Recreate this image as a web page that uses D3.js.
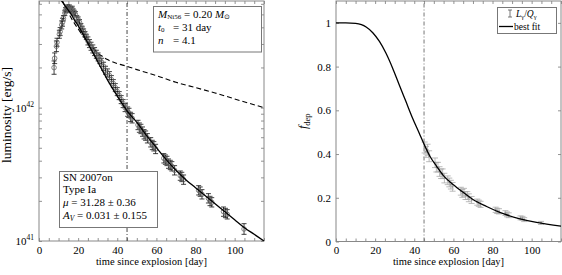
<!DOCTYPE html>
<html>
<head>
<meta charset="utf-8">
<script src="https://cdn.jsdelivr.net/npm/d3@7"></script>
<style>
  body { margin: 0; background: #fff; }
  text { font-family: "Liberation Serif", "Times New Roman", serif; fill: #000; }
</style>
</head>
<body>
<svg id="chart" width="562" height="275"></svg>
<script>
// observed bolometric luminosity (log10 erg/s) with 1-sigma error in dex
const obsDay = [7.7, 8.0, 8.9, 9.2, 10.4, 10.8, 11.6, 12.0, 12.5, 13.2, 13.6, 14.1, 14.5, 15.0, 15.5, 16.0, 16.5, 17.0, 17.5, 18.0,
  18.6, 19.3, 20.0, 20.7, 21.4, 22.1, 22.8, 23.5, 24.2, 25.0, 25.8, 26.6, 27.5, 28.4, 29.3, 30.2, 31.1, 32.0, 33.0, 34.0,
  35.0, 36.0, 37.0, 38.0, 39.0, 40.0, 41.0, 42.0, 43.0, 44.0,
  45.3, 46.0, 46.8, 47.6, 50.6, 51.3, 52.1, 52.9, 53.7, 54.5, 55.4, 57.1, 57.9, 58.7, 59.6, 63.8, 64.6, 65.4, 66.2, 67.1,
  67.9, 69.3, 72.2, 73.0, 73.9, 81.6, 82.4, 83.3, 86.6, 87.4, 88.3, 94.3, 95.3, 96.2, 104.8];
const obsLogL = [42.30, 42.37, 42.46, 42.49, 42.55, 42.57, 42.62, 42.64, 42.67, 42.71, 42.73, 42.74, 42.75, 42.74, 42.75, 42.74, 42.73, 42.74, 42.72, 42.71,
  42.70, 42.67, 42.66, 42.64, 42.61, 42.59, 42.57, 42.55, 42.53, 42.50, 42.48, 42.46, 42.44, 42.42, 42.40, 42.38, 42.36, 42.34, 42.31, 42.28,
  42.26, 42.24, 42.21, 42.18, 42.15, 42.12, 42.09, 42.06, 42.03, 42.00,
  41.97, 41.96, 41.93, 41.92, 41.87, 41.85, 41.84, 41.82, 41.80, 41.79, 41.77, 41.74, 41.72, 41.71, 41.69, 41.62, 41.61, 41.60, 41.58, 41.57,
  41.56, 41.53, 41.49, 41.48, 41.46, 41.38, 41.37, 41.35, 41.32, 41.30, 41.29, 41.22, 41.21, 41.20, 41.09];
const obsErr = [0.05, 0.04, 0.04, 0.03, 0.03, 0.03, 0.03, 0.03, 0.02, 0.02, 0.02, 0.02, 0.02, 0.02, 0.02, 0.02, 0.02, 0.02, 0.02, 0.02,
  0.02, 0.02, 0.02, 0.02, 0.02, 0.02, 0.02, 0.02, 0.02, 0.03, 0.03, 0.03, 0.03, 0.03, 0.03, 0.03, 0.03, 0.03, 0.03, 0.03,
  0.03, 0.03, 0.03, 0.03, 0.03, 0.03, 0.03, 0.03, 0.03, 0.03,
  0.035, 0.035, 0.035, 0.035, 0.035, 0.035, 0.035, 0.035, 0.035, 0.035, 0.035, 0.035, 0.035, 0.035, 0.035, 0.035, 0.035, 0.035, 0.035, 0.035,
  0.035, 0.035, 0.035, 0.035, 0.035, 0.035, 0.035, 0.035, 0.035, 0.035, 0.035, 0.035, 0.035, 0.035, 0.04];

// best fit model luminosity (solid) and full deposition (dashed)
const modelDay = [9.5, 12, 14, 16, 18, 20.6, 25.8, 30.9, 36.1, 41.2, 45, 50, 55, 60, 65, 70, 75, 80, 85, 90, 95, 100, 105, 110, 115];
const modelLogL = [42.85, 42.79, 42.75, 42.71, 42.66, 42.60, 42.46, 42.32, 42.18, 42.06, 41.975, 41.89, 41.79, 41.70, 41.61, 41.53, 41.46, 41.40, 41.34, 41.28, 41.22, 41.16, 41.10, 41.05, 41.00];
const qDay = [10, 12, 15, 20, 25, 30, 35, 40, 45, 50, 60, 70, 80, 90, 100, 115];
const qLogL = [42.85, 42.80, 42.71, 42.59, 42.49, 42.41, 42.36, 42.33, 42.31, 42.285, 42.24, 42.19, 42.15, 42.11, 42.065, 42.00];

// deposition fraction L_gamma / Q_gamma
const ratioDay = [45.3, 46.0, 46.8, 47.6, 50.6, 51.3, 52.1, 52.9, 53.7, 54.5, 55.4, 57.1, 57.9, 58.7, 59.6, 63.8, 64.6, 65.4, 66.2, 67.1,
  67.9, 69.3, 72.2, 73.0, 73.9, 81.6, 82.4, 83.3, 86.6, 87.4, 88.3, 94.3, 95.3, 96.2, 104.8];
const ratioF = [0.43, 0.41, 0.42, 0.39, 0.36, 0.34, 0.34, 0.32, 0.31, 0.31, 0.29, 0.28, 0.27, 0.26, 0.25, 0.23, 0.22, 0.225, 0.21, 0.21,
  0.20, 0.19, 0.18, 0.175, 0.17, 0.145, 0.14, 0.138, 0.13, 0.124, 0.12, 0.108, 0.106, 0.10, 0.085];
const ratioErr = [0.025, 0.025, 0.025, 0.025, 0.022, 0.022, 0.022, 0.022, 0.022, 0.022, 0.022, 0.02, 0.02, 0.02, 0.02, 0.018, 0.018, 0.018, 0.018, 0.018,
  0.018, 0.016, 0.014, 0.014, 0.014, 0.012, 0.012, 0.012, 0.011, 0.011, 0.011, 0.009, 0.009, 0.009, 0.007];

const fitDay = [0, 5, 10, 13, 15.4, 18.8, 22.2, 25.5, 28.9, 32.3, 35.7, 39.1, 42.5, 45.1, 48, 51.5, 55, 60, 65, 70, 77, 85.5, 94, 102.5, 115];
const fitF = [1.0, 1.0, 0.998, 0.992, 0.981, 0.955, 0.915, 0.862, 0.794, 0.717, 0.641, 0.565, 0.496, 0.443, 0.39, 0.343, 0.30, 0.26, 0.225, 0.192, 0.16, 0.127, 0.104, 0.087, 0.070];

const tCut = 45;
const dayTicks = d3.range(0, 116, 5);

const svg = d3.select("#chart");
const frameColor = "#888";

const xL = d3.scaleLinear().domain([0, 115]).range([39, 264]);
const yL = d3.scaleLog().domain([1e41, 6.3e42]).range([241, 1]);
const xR = d3.scaleLinear().domain([0, 115]).range([336, 561]);
const yR = d3.scaleLinear().domain([0, 1.1]).range([241.5, 1]);

function clip(id, x, y) {
  svg.append("clipPath").attr("id", id).append("rect")
    .attr("x", x.range()[0]).attr("y", y.range()[1])
    .attr("width", x.range()[1] - x.range()[0]).attr("height", y.range()[0] - y.range()[1]);
}
clip("clipL", xL, yL);
clip("clipR", xR, yR);

function axes(x, y, yTicks, yFmt) {
  const [x0, x1] = x.range(), [y1, y0] = y.range();
  const g = svg.append("g");
  g.append("g").attr("transform", `translate(0,${y1})`)
    .call(d3.axisBottom(x).tickValues(dayTicks).tickSizeInner(-3).tickSizeOuter(0).tickPadding(5)
      .tickFormat(d => d % 20 === 0 ? d : ""));
  g.append("g").attr("transform", `translate(0,${y0})`)
    .call(d3.axisTop(x).tickValues(dayTicks).tickSizeInner(-3).tickSizeOuter(0).tickFormat(""));
  g.append("g").attr("transform", `translate(${x0},0)`)
    .call(d3.axisLeft(y).tickValues(yTicks).tickSizeInner(-3).tickSizeOuter(0).tickPadding(5).tickFormat(yFmt || ""));
  g.append("g").attr("transform", `translate(${x1},0)`)
    .call(d3.axisRight(y).tickValues(yTicks).tickSizeInner(-3).tickSizeOuter(0).tickFormat(""));
  g.selectAll(".domain").remove();
  g.selectAll(".tick line").attr("stroke", "#777").attr("stroke-width", 0.8);
  g.selectAll(".tick text").attr("font-family", "Liberation Serif").attr("font-size", 11).attr("fill", "#000");
  g.append("rect").attr("x", x0).attr("y", y0).attr("width", x1 - x0).attr("height", y1 - y0)
    .attr("fill", "none").attr("stroke", frameColor).attr("stroke-width", 1);
}

// ---------- left panel ----------
const logTicks = [];
for (let e = 41; e <= 42; e++) for (let m = 1; m <= 9; m++) if (m * Math.pow(10, e) <= 6.3e42) logTicks.push(m * Math.pow(10, e));
axes(xL, yL, logTicks);
[41, 42].forEach(e => {
  const t = svg.append("text").attr("x", 34).attr("y", yL(Math.pow(10, e)) + 4)
    .attr("text-anchor", "end").attr("font-size", 11);
  t.append("tspan").text("10");
  t.append("tspan").attr("dy", -5).attr("font-size", 7.5).text(e);
});

const pL = svg.append("g").attr("clip-path", "url(#clipL)");
pL.append("line").attr("x1", xL(tCut)).attr("x2", xL(tCut)).attr("y1", yL.range()[0]).attr("y2", yL.range()[1])
  .attr("stroke", "#333").attr("stroke-width", 0.9).attr("stroke-dasharray", "4,2,1,2");

const lineL = d3.line().x(d => xL(d[0])).y(d => yL(Math.pow(10, d[1]))).curve(d3.curveMonotoneX);
pL.append("path").datum(d3.zip(qDay, qLogL)).attr("d", lineL)
  .attr("fill", "none").attr("stroke", "#000").attr("stroke-width", 1.1).attr("stroke-dasharray", "5,3");

const obs = d3.zip(obsDay, obsLogL, obsErr);
const eb = pL.selectAll(".eb").data(obs).enter().append("g").attr("stroke", "#111").attr("stroke-width", 0.8);
eb.append("line").attr("x1", d => xL(d[0])).attr("x2", d => xL(d[0]))
  .attr("y1", d => yL(Math.pow(10, d[1] - d[2]))).attr("y2", d => yL(Math.pow(10, d[1] + d[2])));
eb.append("line").attr("x1", d => xL(d[0]) - 2.5).attr("x2", d => xL(d[0]) + 2.5)
  .attr("y1", d => yL(Math.pow(10, d[1] - d[2]))).attr("y2", d => yL(Math.pow(10, d[1] - d[2])));
eb.append("line").attr("x1", d => xL(d[0]) - 2.5).attr("x2", d => xL(d[0]) + 2.5)
  .attr("y1", d => yL(Math.pow(10, d[1] + d[2]))).attr("y2", d => yL(Math.pow(10, d[1] + d[2])));
pL.selectAll(".mk").data(obs).enter().append("circle")
  .attr("cx", d => xL(d[0])).attr("cy", d => yL(Math.pow(10, d[1]))).attr("r", 2.3)
  .attr("fill", "none").attr("stroke", "#666").attr("stroke-width", 0.8);

pL.append("path").datum(d3.zip(modelDay, modelLogL)).attr("d", lineL)
  .attr("fill", "none").attr("stroke", "#000").attr("stroke-width", 1.3);

// parameter box
const box1 = svg.append("g");
box1.append("rect").attr("x", 153.5).attr("y", 6.5).attr("width", 108).attr("height", 45.5)
  .attr("fill", "#fff").attr("stroke", "#777").attr("stroke-width", 1);
let t = box1.append("text").attr("x", 158).attr("y", 17.5).attr("font-size", 11);
t.append("tspan").attr("font-style", "italic").text("M");
t.append("tspan").attr("dy", 1.5).attr("font-size", 7).text("Ni56");
t.append("tspan").attr("dy", -1.5).text(" = 0.20 ");
t.append("tspan").attr("font-style", "italic").text("M");
t.append("tspan").attr("dy", 1.5).attr("font-size", 7).text("⊙");
t = box1.append("text").attr("x", 158).attr("y", 30.5).attr("font-size", 11);
t.append("tspan").attr("font-style", "italic").text("t");
t.append("tspan").attr("dy", 1.5).attr("font-size", 7).text("0");
t.append("tspan").attr("dy", -1.5).attr("x", 173).text("= 31 day");
t = box1.append("text").attr("x", 158).attr("y", 43.5).attr("font-size", 11);
t.append("tspan").attr("font-style", "italic").text("n");
t.append("tspan").attr("x", 173).text("= 4.1");

// supernova box
const box2 = svg.append("g");
box2.append("rect").attr("x", 59.5).attr("y", 171.5).attr("width", 98).attr("height", 56)
  .attr("fill", "#fff").attr("stroke", "#777").attr("stroke-width", 1);
box2.append("text").attr("x", 63).attr("y", 180.5).attr("font-size", 11).text("SN 2007on");
box2.append("text").attr("x", 63).attr("y", 193).attr("font-size", 11).text("Type Ia");
t = box2.append("text").attr("x", 63).attr("y", 206).attr("font-size", 11);
t.append("tspan").attr("font-style", "italic").text("μ");
t.append("tspan").text(" = 31.28 ± 0.36");
t = box2.append("text").attr("x", 63).attr("y", 219).attr("font-size", 11);
t.append("tspan").attr("font-style", "italic").text("A");
t.append("tspan").attr("dy", 1.5).attr("font-size", 7.5).attr("font-style", "italic").text("V");
t.append("tspan").attr("dy", -1.5).text(" = 0.031 ± 0.155");

svg.append("text").attr("transform", `translate(11,115) rotate(-90)`)
  .attr("text-anchor", "middle").attr("font-size", 13.5).text("luminosity [erg/s]");
svg.append("text").attr("x", (xL.range()[0] + xL.range()[1]) / 2).attr("y", 265)
  .attr("text-anchor", "middle").attr("font-size", 10.5).text("time since explosion [day]");

// ---------- right panel ----------
axes(xR, yR, [0, 0.2, 0.4, 0.6, 0.8, 1], d => d === 0 || d === 1 ? d : d3.format(".1f")(d));

const pR = svg.append("g").attr("clip-path", "url(#clipR)");
pR.append("line").attr("x1", xR(tCut)).attr("x2", xR(tCut)).attr("y1", yR.range()[0]).attr("y2", yR.range()[1])
  .attr("stroke", "#666").attr("stroke-width", 0.9).attr("stroke-dasharray", "4,2,1,2");

const ratio = d3.zip(ratioDay, ratioF, ratioErr);
const ebR = pR.selectAll(".ebr").data(ratio).enter().append("g").attr("stroke", "#aaa").attr("stroke-width", 0.8);
ebR.append("line").attr("x1", d => xR(d[0])).attr("x2", d => xR(d[0]))
  .attr("y1", d => yR(d[1] - d[2])).attr("y2", d => yR(d[1] + d[2]));
ebR.append("line").attr("x1", d => xR(d[0]) - 3).attr("x2", d => xR(d[0]) + 3)
  .attr("y1", d => yR(d[1] - d[2])).attr("y2", d => yR(d[1] - d[2]));
ebR.append("line").attr("x1", d => xR(d[0]) - 3).attr("x2", d => xR(d[0]) + 3)
  .attr("y1", d => yR(d[1] + d[2])).attr("y2", d => yR(d[1] + d[2]));
pR.selectAll(".mkr").data(ratio).enter().append("circle")
  .attr("cx", d => xR(d[0])).attr("cy", d => yR(d[1])).attr("r", 1)
  .attr("fill", "#999");

pR.append("path").datum(d3.zip(fitDay, fitF))
  .attr("d", d3.line().x(d => xR(d[0])).y(d => yR(d[1])).curve(d3.curveMonotoneX))
  .attr("fill", "none").attr("stroke", "#000").attr("stroke-width", 1.3);

// legend
const lg = svg.append("g");
lg.append("rect").attr("x", 497.5).attr("y", 7.5).attr("width", 59).attr("height", 26)
  .attr("fill", "#fff").attr("stroke", "#777").attr("stroke-width", 1);
lg.append("line").attr("x1", 510).attr("x2", 510).attr("y1", 10).attr("y2", 17).attr("stroke", "#555").attr("stroke-width", 0.8);
lg.append("line").attr("x1", 508).attr("x2", 512).attr("y1", 10).attr("y2", 10).attr("stroke", "#555").attr("stroke-width", 0.8);
lg.append("line").attr("x1", 508).attr("x2", 512).attr("y1", 17).attr("y2", 17).attr("stroke", "#555").attr("stroke-width", 0.8);
t = lg.append("text").attr("x", 516).attr("y", 17).attr("font-size", 9.5);
t.append("tspan").attr("font-style", "italic").text("L");
t.append("tspan").attr("dy", 1.5).attr("font-size", 6.5).text("γ");
t.append("tspan").attr("dy", -1.5).text("/");
t.append("tspan").attr("font-style", "italic").text("Q");
t.append("tspan").attr("dy", 1.5).attr("font-size", 6.5).text("γ");
lg.append("line").attr("x1", 499).attr("x2", 513).attr("y1", 26.5).attr("y2", 26.5).attr("stroke", "#000").attr("stroke-width", 1.3);
lg.append("text").attr("x", 514).attr("y", 30).attr("font-size", 9.5).text("best fit");

svg.append("text").attr("transform", `translate(307,${(yR.range()[0] + yR.range()[1]) / 2}) rotate(-90)`)
  .attr("text-anchor", "middle").attr("font-size", 12)
  .call(s => {
    s.append("tspan").attr("font-style", "italic").text("f");
    s.append("tspan").attr("dy", 2.5).attr("font-size", 8.5).text("dep");
  });
svg.append("text").attr("x", (xR.range()[0] + xR.range()[1]) / 2).attr("y", 265)
  .attr("text-anchor", "middle").attr("font-size", 10.5).text("time since explosion [day]");
</script>
</body>
</html>
